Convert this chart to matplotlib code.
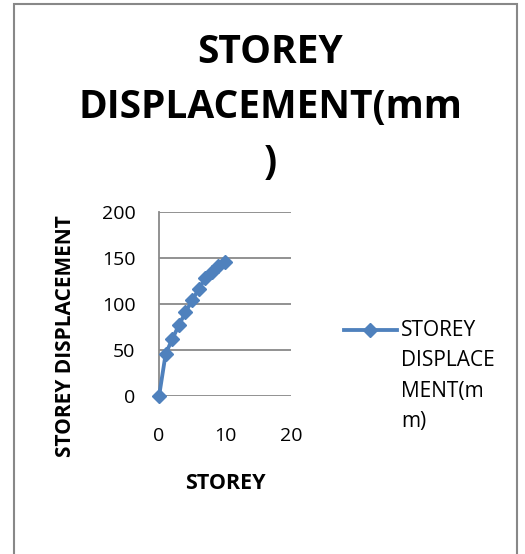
import matplotlib.pyplot as plt
from matplotlib.lines import Line2D
from matplotlib.patches import Rectangle

storey = [0, 1, 2, 3, 4, 5, 6, 7, 8, 9, 10]
displacement = [0, 46, 62, 77, 91, 104, 116, 128, 135, 141, 146]

title = "STOREY\nDISPLACEMENT(mm\n)"
series_name = "STOREY\nDISPLACE\nMENT(m\nm)"
blue = "#4F81BD"

plt.rcParams['font.family'] = ['Open Sans', 'DejaVu Sans']

fig = plt.figure(figsize=(5.25, 5.54), dpi=100)
fig.patches.append(Rectangle((0.027, -0.01), 0.958, 1.003, transform=fig.transFigure,
                             fill=False, edgecolor="#888888", linewidth=1.5))

ax = fig.add_axes([0.303, 0.285, 0.251, 0.332])
ax.plot(storey, displacement, color=blue, linewidth=2.75, marker='D', markersize=7,
        clip_on=False, zorder=3)
ax.set_xlim(0, 20)
ax.set_ylim(0, 200)
ax.set_xticks([0, 10, 20])
ax.set_yticks([0, 50, 100, 150, 200])
ax.grid(axis='y', color="#898989", linewidth=1.3)
ax.set_axisbelow(True)
for s in ['top', 'right', 'bottom']:
    ax.spines[s].set_visible(False)
ax.spines['left'].set_color("#898989")
ax.spines['left'].set_linewidth(1.3)
ax.tick_params(length=0, labelsize=14)
ax.tick_params(axis='y', pad=17)
ax.tick_params(axis='x', pad=22)
ax.set_xlabel("STOREY", fontsize=15.5, fontweight='bold')
ax.set_ylabel("STOREY DISPLACEMENT", fontsize=15, fontweight='bold')
ax.xaxis.set_label_coords(0.5, -0.418)
ax.yaxis.set_label_coords(-0.629, 0.325)

fig.text(0.515, 0.806, title, ha='center', va='center', fontsize=28,
         fontweight='bold', linespacing=1.52)

# legend
fig.add_artist(Line2D([0.655, 0.705, 0.756], [0.404, 0.404, 0.404],
                      transform=fig.transFigure, color=blue, linewidth=2.75,
                      marker='D', markersize=7, markevery=[1]))
fig.text(0.764, 0.422, series_name, ha='left', va='top', fontsize=15,
         linespacing=1.58)

fig.savefig("out.png", dpi=100)
